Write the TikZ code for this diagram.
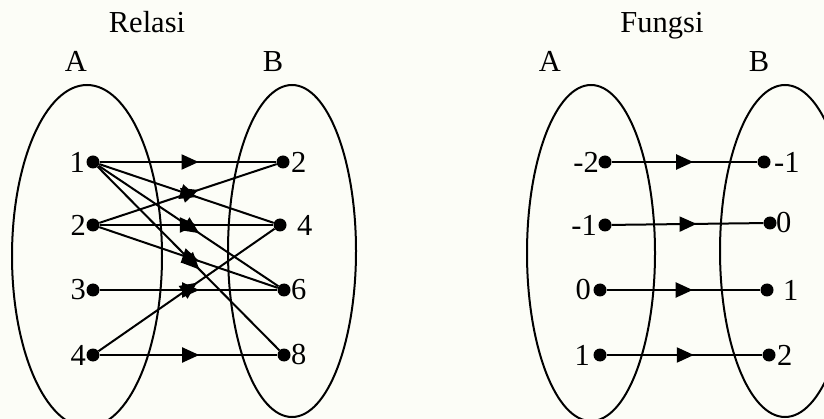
\documentclass[tikz,border=0pt]{standalone}
\usepackage{fontspec}
\setmainfont{Liberation Serif}
\usetikzlibrary{arrows.meta,decorations.markings}
\definecolor{bgcream}{RGB}{252,253,247}
\begin{document}
\begin{tikzpicture}[x=1pt,y=-1pt,
  dot/.style={circle,fill=black,inner sep=0pt,minimum size=13pt},
  lbl/.style={inner sep=0pt,font=\fontsize{30.5}{34}\selectfont},
  setline/.style={line width=2pt},
  conn/.style={line width=2pt,postaction={decorate},
    decoration={markings,mark=at position 0.56 with {\arrow{Triangle[length=17pt,width=15pt]}}}}]
\useasboundingbox (0,0) rectangle (824,419);
\fill[bgcream] (0,0) rectangle (824,419);
\clip (0,0) rectangle (824,419);

% titles
\node[lbl,anchor=base] (trel) at (147,33) {Relasi};
\node[lbl,anchor=base] (tfun) at (662,33) {Fungsi};
\node[lbl,anchor=base] (rA) at (76,72) {A};
\node[lbl,anchor=base] (rB) at (273,72) {B};
\node[lbl,anchor=base] (fA) at (550,72) {A};
\node[lbl,anchor=base] (fB) at (759,72) {B};

% ellipses
\draw[setline] (87,256) ellipse [x radius=75, y radius=171];
\draw[setline] (292,251) ellipse [x radius=64, y radius=166];
\draw[setline] (591,253) ellipse [x radius=64, y radius=168];
\draw[setline] (785,251) ellipse [x radius=65, y radius=166];

% Relasi dots
\node[dot] (a1) at (93,162) {};
\node[dot] (a2) at (93,225) {};
\node[dot] (a3) at (93,290) {};
\node[dot] (a4) at (93,355) {};
\node[dot] (b2) at (283,162) {};
\node[dot] (b4) at (280,225) {};
\node[dot] (b6) at (284,290) {};
\node[dot] (b8) at (284,355) {};

\node[lbl,anchor=east] (la1) at (85,162) {1};
\node[lbl,anchor=east] (la2) at (86,225) {2};
\node[lbl,anchor=east] (la3) at (86,290) {3};
\node[lbl,anchor=east] (la4) at (86,355) {4};
\node[lbl,anchor=west] (lb2) at (291,162) {2};
\node[lbl,anchor=west] (lb4) at (297,225) {4};
\node[lbl,anchor=west] (lb6) at (291,290) {6};
\node[lbl,anchor=west] (lb8) at (291,355) {8};

\draw[conn] (a1) -- (b2);
\draw[conn] (a1) -- (b4);
\draw[conn] (a1) -- (b6);
\draw[conn] (a1) -- (b8);
\draw[conn] (a2) -- (b2);
\draw[conn] (a2) -- (b4);
\draw[conn] (a2) -- (b6);
\draw[conn] (a3) -- (b6);
\draw[conn] (a4) -- (b4);
\draw[conn] (a4) -- (b8);

% Fungsi dots
\node[dot] (c1) at (605,162) {};
\node[dot] (c2) at (605,225) {};
\node[dot] (c3) at (600,290) {};
\node[dot] (c4) at (600,355) {};
\node[dot] (d1) at (764,162) {};
\node[dot] (d2) at (770,223) {};
\node[dot] (d3) at (767,290) {};
\node[dot] (d4) at (769,355) {};

\node[lbl,anchor=east] (lc1) at (599,162) {-2};
\node[lbl,anchor=east] (lc2) at (597,225) {-1};
\node[lbl,anchor=east] (lc3) at (591,290) {0};
\node[lbl,anchor=east] (lc4) at (590,355) {1};
\node[lbl,anchor=west] (ld1) at (774,162) {-1};
\node[lbl,anchor=west] (ld2) at (776,223) {0};
\node[lbl,anchor=west] (ld3) at (783,290) {1};
\node[lbl,anchor=west] (ld4) at (777,355) {2};

\draw[conn] (c1) -- (d1);
\draw[conn] (c2) -- (d2);
\draw[conn] (c3) -- (d3);
\draw[conn] (c4) -- (d4);
\end{tikzpicture}
\end{document}
